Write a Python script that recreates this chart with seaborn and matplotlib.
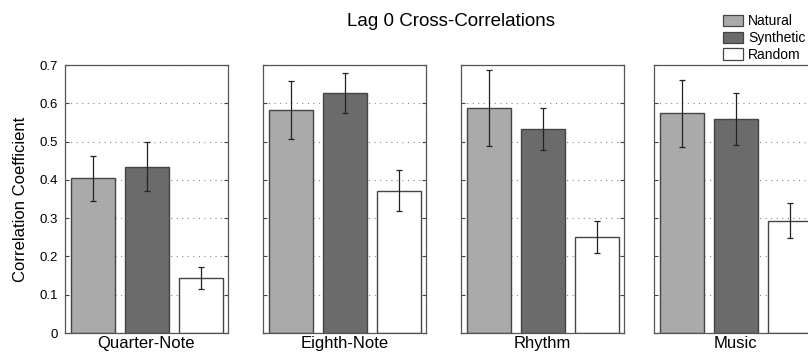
import matplotlib
matplotlib.use("Agg")
import matplotlib.pyplot as plt
from matplotlib.patches import Patch
import seaborn as sns
import pandas as pd

sns.set_style("white")
plt.rcParams["font.family"] = ["Liberation Sans", "DejaVu Sans"]
plt.rcParams["text.color"] = "black"
plt.rcParams["axes.labelcolor"] = "black"
plt.rcParams["ytick.color"] = "black"

panels = ["Quarter-Note", "Eighth-Note", "Rhythm", "Music"]
conditions = ["Natural", "Synthetic", "Random"]
means = {
    "Quarter-Note": [0.404, 0.434, 0.144],
    "Eighth-Note": [0.582, 0.626, 0.372],
    "Rhythm": [0.588, 0.533, 0.251],
    "Music": [0.574, 0.560, 0.293],
}
errs = {
    "Quarter-Note": [0.058, 0.064, 0.029],
    "Eighth-Note": [0.075, 0.052, 0.054],
    "Rhythm": [0.099, 0.055, 0.041],
    "Music": [0.088, 0.068, 0.046],
}
colors = {"Natural": "#aaaaaa", "Synthetic": "#6b6b6b", "Random": "#ffffff"}

fig = plt.figure(figsize=(8.08, 3.57), dpi=100)
lefts = [0.0804, 0.3255, 0.5705, 0.8094]
edge = "#444444"

for i, (name, left) in enumerate(zip(panels, lefts)):
    ax = fig.add_axes([left, 0.0672, 0.2017, 0.7507])
    df = pd.DataFrame({"cond": conditions, "val": means[name]})
    sns.barplot(data=df, x="cond", y="val", hue="cond", order=conditions,
                palette=colors, width=0.8, edgecolor=edge, linewidth=1.0,
                legend=False, ax=ax, zorder=2)
    ax.errorbar(range(3), means[name], yerr=errs[name], fmt="none",
                ecolor="#222222", elinewidth=0.9, capsize=2, capthick=0.9, zorder=3)
    ax.set_xlim(-0.52, 2.5)
    ax.set_ylim(0, 0.7)
    ax.set_yticks([0, 0.1, 0.2, 0.3, 0.4, 0.5, 0.6, 0.7])
    ax.set_xticks([])
    ax.set_axisbelow(True)
    ax.yaxis.grid(True, linestyle=(0, (1, 4)), color="#888888", linewidth=0.8)
    ax.tick_params(axis="y", direction="in", length=3, left=True, right=True,
                   color="#444444", labelcolor="black", labelsize=9.5, pad=5)
    for s in ax.spines.values():
        s.set_visible(True)
        s.set_color("#555555")
        s.set_linewidth(0.9)
    ax.set_xlabel(name, fontsize=12, labelpad=2, color="black")
    if i == 0:
        ax.set_yticklabels(["0", "0.1", "0.2", "0.3", "0.4", "0.5", "0.6", "0.7"])
        ax.set_ylabel("Correlation Coefficient", fontsize=12, labelpad=8, color="black")
    else:
        ax.set_yticklabels([])
        ax.set_ylabel("")

fig.text(0.558, 0.94, "Lag 0 Cross-Correlations", ha="center", va="center",
         fontsize=13.5, color="black")

handles = [Patch(facecolor=colors[c], edgecolor=edge, linewidth=0.9, label=c) for c in conditions]
fig.legend(handles=handles, loc="upper left", bbox_to_anchor=(0.888, 0.975), frameon=False,
           fontsize=10, handlelength=1.45, handleheight=0.9, handletextpad=0.35,
           labelspacing=0.2, borderaxespad=0, labelcolor="black")

fig.savefig("out.png", dpi=100)
